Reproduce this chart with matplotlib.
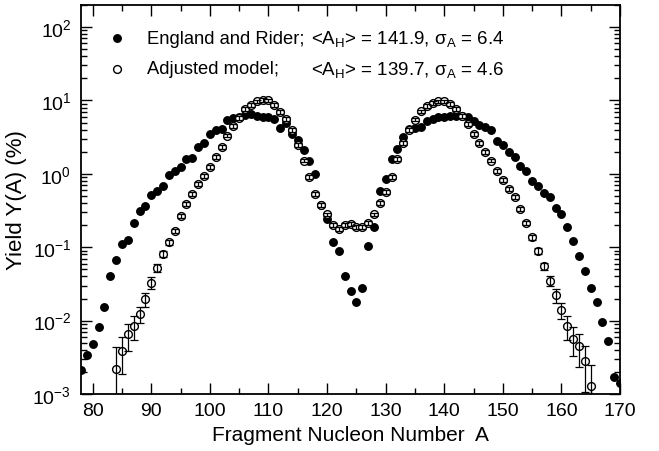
import matplotlib
matplotlib.use("Agg")
import matplotlib.pyplot as plt
from matplotlib.ticker import LogLocator, MultipleLocator, NullFormatter

plt.rcParams['font.family'] = ['Liberation Sans', 'DejaVu Sans']
plt.rcParams['mathtext.default'] = 'regular'

# England and Rider (filled)
er_A = list(range(78, 171))
er_Y = [0.0021, 0.0034, 0.0048, 0.0083, 0.0153, 0.041, 0.066, 0.11, 0.127, 0.217,
        0.31, 0.36, 0.52, 0.59, 0.68, 0.95, 1.1, 1.23, 1.6, 1.67,
        2.31, 2.65, 3.5, 4.0, 4.1, 5.4, 5.7, 6.0, 6.3, 6.5,
        6.1, 6.0, 5.9, 5.6, 4.2, 4.9, 3.5, 2.9, 2.1, 1.5,
        1.0, 0.38, 0.24, 0.117, 0.088, 0.041, 0.025, 0.0178, 0.0275, 0.105,
        0.19, 0.59, 0.84, 1.6, 2.15, 3.2, 4.1, 4.2, 4.3, 5.2,
        5.6, 5.9, 6.0, 6.1, 6.1, 6.1, 6.0, 5.3, 4.6, 4.3,
        4.0, 2.8, 2.45, 2.0, 1.7, 1.28, 1.1, 0.8, 0.68, 0.54,
        0.48, 0.34, 0.28, 0.19, 0.12, 0.077, 0.047, 0.028, 0.018, 0.0095,
        0.0052, 0.0017, 0.0014]

# Adjusted model (open, with error bars)
adj_A = list(range(84, 166))
adj_Y = [0.0022, 0.0039, 0.0065, 0.0085, 0.0123, 0.0197, 0.033, 0.052, 0.081, 0.117,
         0.166, 0.265, 0.39, 0.53, 0.72, 0.93, 1.23, 1.69, 2.31, 3.33,
         4.47, 5.75, 7.7, 8.7, 9.7, 10.3, 10.0, 8.7, 6.9, 5.6,
         4.0, 2.5, 1.52, 0.9, 0.53, 0.38, 0.28, 0.2, 0.178, 0.2,
         0.21, 0.19, 0.187, 0.215, 0.28, 0.4, 0.57, 0.9, 1.58, 2.65,
         4.0, 5.5, 7.1, 8.4, 9.3, 9.7, 9.7, 9.0, 7.7, 6.2,
         4.8, 3.5, 2.65, 1.98, 1.52, 1.1, 0.82, 0.63, 0.48, 0.33,
         0.215, 0.137, 0.09, 0.055, 0.035, 0.022, 0.014, 0.0085, 0.0057, 0.0045,
         0.0028, 0.0013]
# relative errors
adj_relerr = [0.99, 0.52, 0.40, 0.36, 0.24, 0.22, 0.18, 0.12, 0.10, 0.08,
              0.07, 0.06, 0.06, 0.06, 0.06, 0.06, 0.06, 0.06, 0.06, 0.06,
              0.06, 0.06, 0.06, 0.06, 0.06, 0.06, 0.06, 0.06, 0.06, 0.06,
              0.06, 0.06, 0.06, 0.06, 0.06, 0.06, 0.06, 0.06, 0.06, 0.06,
              0.06, 0.06, 0.06, 0.06, 0.06, 0.06, 0.06, 0.06, 0.06, 0.06,
              0.06, 0.06, 0.06, 0.06, 0.06, 0.06, 0.06, 0.06, 0.06, 0.06,
              0.06, 0.06, 0.06, 0.06, 0.06, 0.06, 0.06, 0.06, 0.06, 0.07,
              0.07, 0.08, 0.09, 0.11, 0.16, 0.22, 0.26, 0.36, 0.42, 0.48,
              0.62, 0.90]

legend1 = ("England and Rider;", r"<A$_{H}$> = 141.9, $\sigma_{A}$ = 6.4")
legend2 = ("Adjusted model;", r"<A$_{H}$> = 139.7, $\sigma_{A}$ = 4.6")

fig = plt.figure(figsize=(6.59, 4.52), dpi=100)
ax = fig.add_axes([81/659, 1-395/452, (620-81)/659, (395-6)/452])

yerr = [r * y for r, y in zip(adj_relerr, adj_Y)]
ax.plot(er_A, er_Y, 'o', color='black', ms=5.4, zorder=2)
ax.plot(adj_A, adj_Y, 'o', mfc='white', mec='black', ms=5.6, mew=1.0, zorder=3)
ax.errorbar(adj_A, adj_Y, yerr=yerr, fmt='none', ecolor='black',
            elinewidth=0.9, capsize=2.6, capthick=0.9, zorder=4)

ax.set_yscale('log')
ax.set_xlim(78, 170)
ax.set_ylim(1e-3, 200)
ax.xaxis.set_major_locator(MultipleLocator(10))
ax.xaxis.set_minor_locator(MultipleLocator(5))
ax.yaxis.set_major_locator(LogLocator(base=10, numticks=10))
ax.yaxis.set_minor_locator(LogLocator(base=10, subs=range(2, 10), numticks=20))
ax.yaxis.set_minor_formatter(NullFormatter())
ax.tick_params(which='both', direction='in', top=True, right=True, labelsize=14)
ax.tick_params(which='major', length=8, width=1.0)
ax.tick_params(which='minor', length=4, width=1.0)
ax.tick_params(axis='x', pad=6)
ax.tick_params(axis='y', pad=7)
for s in ax.spines.values():
    s.set_linewidth(1.3)

ax.set_xlabel("Fragment Nucleon Number  A", fontsize=15, labelpad=4)
ax.set_ylabel("Yield Y(A) (%)", fontsize=16, labelpad=4)

# legend drawn as text with markers
tr = ax.transAxes
def px(x, y):
    return ((x - 81) / 539, (395 - y) / 389)
ax.plot(*px(117, 39), 'o', color='black', ms=5.4, transform=tr, clip_on=False)
ax.plot(*px(117, 70), 'o', mfc='white', mec='black', ms=5.6, mew=1.0, transform=tr, clip_on=False)
ax.text(*px(147, 39), legend1[0], transform=tr, fontsize=13.2, va='center')
ax.text(*px(311, 39), legend1[1], transform=tr, fontsize=13.5, va='center')
ax.text(*px(147, 70), legend2[0], transform=tr, fontsize=13.2, va='center')
ax.text(*px(311, 70), legend2[1], transform=tr, fontsize=13.5, va='center')

fig.savefig("out.png", dpi=100)
